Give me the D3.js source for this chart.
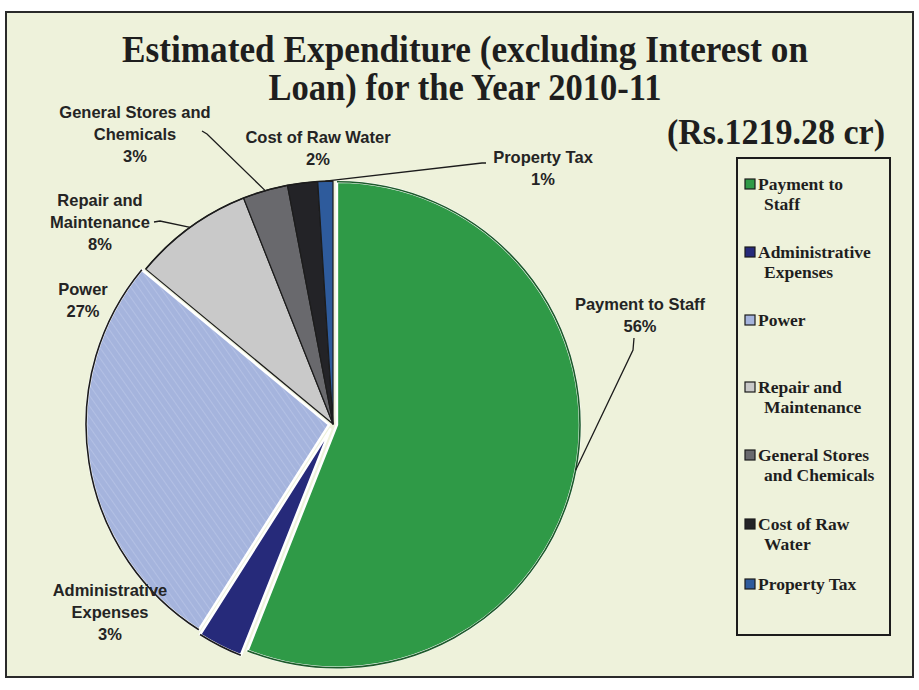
<!DOCTYPE html>
<html>
<head>
<meta charset="utf-8">
<script src="https://cdn.jsdelivr.net/npm/d3@7"></script>
<style>
  html, body { margin: 0; padding: 0; background: #ffffff; }
  svg { display: block; }
</style>
</head>
<body>
<svg id="chart" width="919" height="690"></svg>
<script>
// Budget split of estimated expenditure, 2010-11 (per cent of total)
const categories = [
  "Payment to Staff",
  "Administrative Expenses",
  "Power",
  "Repair and Maintenance",
  "General Stores and Chemicals",
  "Cost of Raw Water",
  "Property Tax"
];
const values = [56, 3, 27, 8, 3, 2, 1];

// Wrapped texts used for the slice labels and the legend
const sliceLabelLines = [
  ["Payment to Staff"],
  ["Administrative", "Expenses"],
  ["Power"],
  ["Repair and", "Maintenance"],
  ["General Stores and", "Chemicals"],
  ["Cost of Raw Water"],
  ["Property Tax"]
];
const legendLines = [
  ["Payment to", "Staff"],
  ["Administrative", "Expenses"],
  ["Power"],
  ["Repair and", "Maintenance"],
  ["General Stores", "and Chemicals"],
  ["Cost of Raw", "Water"],
  ["Property Tax"]
];
const titleLines = ["Estimated Expenditure (excluding Interest on", "Loan) for the Year 2010-11"];
const totalLabel = "(Rs.1219.28 cr)";

// ---- styling / layout ----
const colors = ["#2f9a47", "#262a7a", "#a5b4dd", "#c9c9c9", "#69696d", "#232327", "#2e5b9c"];
const explode = [4, 6, 4, 0, 0, 0, 0];
const cx = 333, cy = 424, R = 243;

// label anchor (centre x, first baseline y) and optional leader elbow
const labelLayout = [
  { x: 640, y: 310, leader: [[634, 338], [633, 350]] },
  { x: 110, y: 596 },
  { x: 83, y: 295 },
  { x: 100, y: 206, leader: [[154, 222], [160, 221]] },
  { x: 135, y: 118, leader: [[202, 131], [207, 134]] },
  { x: 318, y: 143 },
  { x: 543, y: 163, leader: [[486, 163], [482, 163]] }
];

const svg = d3.select("#chart");

// panel background and frame
svg.append("rect")
  .attr("x", 6).attr("y", 12).attr("width", 907).attr("height", 665)
  .attr("fill", "#eef2db")
  .attr("stroke", "#2a2a2a").attr("stroke-width", 2);

// hatched fill for the Power slice
const defs = svg.append("defs");
const pat = defs.append("pattern")
  .attr("id", "hatch").attr("patternUnits", "userSpaceOnUse")
  .attr("width", 6).attr("height", 6)
  .attr("patternTransform", "rotate(-35)");
pat.append("rect").attr("width", 6).attr("height", 6).attr("fill", colors[2]);
pat.append("line").attr("x1", 0).attr("y1", 0).attr("x2", 0).attr("y2", 6)
  .attr("stroke", "#b3c0e4").attr("stroke-width", 2);

// title (condensed bold serif)
const title = svg.append("g")
  .attr("font-family", "'Liberation Serif', 'Times New Roman', serif")
  .attr("font-weight", "bold").attr("fill", "#1e1e1e");
title.selectAll("text").data(titleLines).join("text")
  .attr("x", 465).attr("y", (d, i) => 62 + i * 38)
  .attr("text-anchor", "middle")
  .attr("font-size", 37)
  .attr("textLength", (d, i) => i === 0 ? 686 : 393)
  .attr("lengthAdjust", "spacingAndGlyphs")
  .text(d => d);

svg.append("text")
  .attr("x", 776).attr("y", 144)
  .attr("text-anchor", "middle")
  .attr("font-family", "'Liberation Serif', 'Times New Roman', serif")
  .attr("font-weight", "bold").attr("font-size", 36).attr("fill", "#1e1e1e")
  .attr("textLength", 218).attr("lengthAdjust", "spacingAndGlyphs")
  .text(totalLabel);

// pie
const pie = d3.pie().sort(null).startAngle(0).endAngle(2 * Math.PI);
const arcs = pie(values);
const arc = d3.arc().innerRadius(0).outerRadius(R);
const shift = (d, i) => {
  const a = (d.startAngle + d.endAngle) / 2;
  return `translate(${Math.sin(a) * explode[i]},${-Math.cos(a) * explode[i]})`;
};

const pieG = svg.append("g").attr("transform", `translate(${cx},${cy})`);
pieG.selectAll("path.slice").data(arcs).join("path")
  .attr("class", "slice")
  .attr("transform", shift)
  .attr("d", arc)
  .attr("fill", (d, i) => i === 2 ? "url(#hatch)" : colors[i])
  .attr("stroke", (d, i) => explode[i] > 0 ? "#ffffff" : "#1c1c1c")
  .attr("stroke-width", (d, i) => explode[i] > 0 ? 2.5 : 1.2)
  .attr("stroke-linejoin", "round");

// dark rims on the outer arcs
const rim = d3.arc().innerRadius(R).outerRadius(R);
pieG.selectAll("path.rim").data(arcs).join("path")
  .attr("class", "rim")
  .attr("transform", shift)
  .attr("d", rim)
  .attr("fill", "none")
  .attr("stroke", (d, i) => i === 0 ? "#1d5a2a" : "#1c1c1c")
  .attr("stroke-width", 1.6);

// leader lines: from label elbow to the slice's outer mid-point
arcs.forEach((d, i) => {
  const L = labelLayout[i];
  if (!L.leader) return;
  const a = (d.startAngle + d.endAngle) / 2;
  const e = R + explode[i];
  const end = [cx + Math.sin(a) * e, cy - Math.cos(a) * e];
  svg.append("path")
    .attr("d", d3.line()([...L.leader, end]))
    .attr("fill", "none").attr("stroke", "#1c1c1c").attr("stroke-width", 1.3);
});

// slice labels
const lab = svg.append("g")
  .attr("font-family", "'Liberation Sans', Arial, sans-serif")
  .attr("font-weight", "bold").attr("font-size", 16.5).attr("fill", "#242424")
  .attr("text-anchor", "middle");
arcs.forEach((d, i) => {
  const L = labelLayout[i];
  const t = lab.append("text").attr("x", L.x).attr("y", L.y);
  const lines = [...sliceLabelLines[i], d3.format("d")(d.data) + "%"];
  lines.forEach((ln, k) => {
    t.append("tspan").attr("x", L.x).attr("dy", k === 0 ? 0 : 22).text(ln);
  });
});

// legend
svg.append("rect")
  .attr("x", 737).attr("y", 158).attr("width", 153).attr("height", 477)
  .attr("fill", "none").attr("stroke", "#1c1c1c").attr("stroke-width", 2);

const legendBaselines = [190, 258, 326, 393, 461, 530, 590];
const lg = svg.append("g")
  .attr("font-family", "'Liberation Serif', 'Times New Roman', serif")
  .attr("font-weight", "bold").attr("font-size", 17.5).attr("fill", "#1e1e1e");
categories.forEach((c, i) => {
  const y = legendBaselines[i];
  lg.append("rect")
    .attr("x", 745).attr("y", y - 11).attr("width", 10).attr("height", 10)
    .attr("fill", colors[i]).attr("stroke", "#1c1c1c").attr("stroke-width", 1.2);
  const t = lg.append("text").attr("x", 758).attr("y", y);
  legendLines[i].forEach((ln, k) => {
    t.append("tspan").attr("x", k === 0 ? 758 : 764).attr("dy", k === 0 ? 0 : 20).text(ln);
  });
});
</script>
</body>
</html>
